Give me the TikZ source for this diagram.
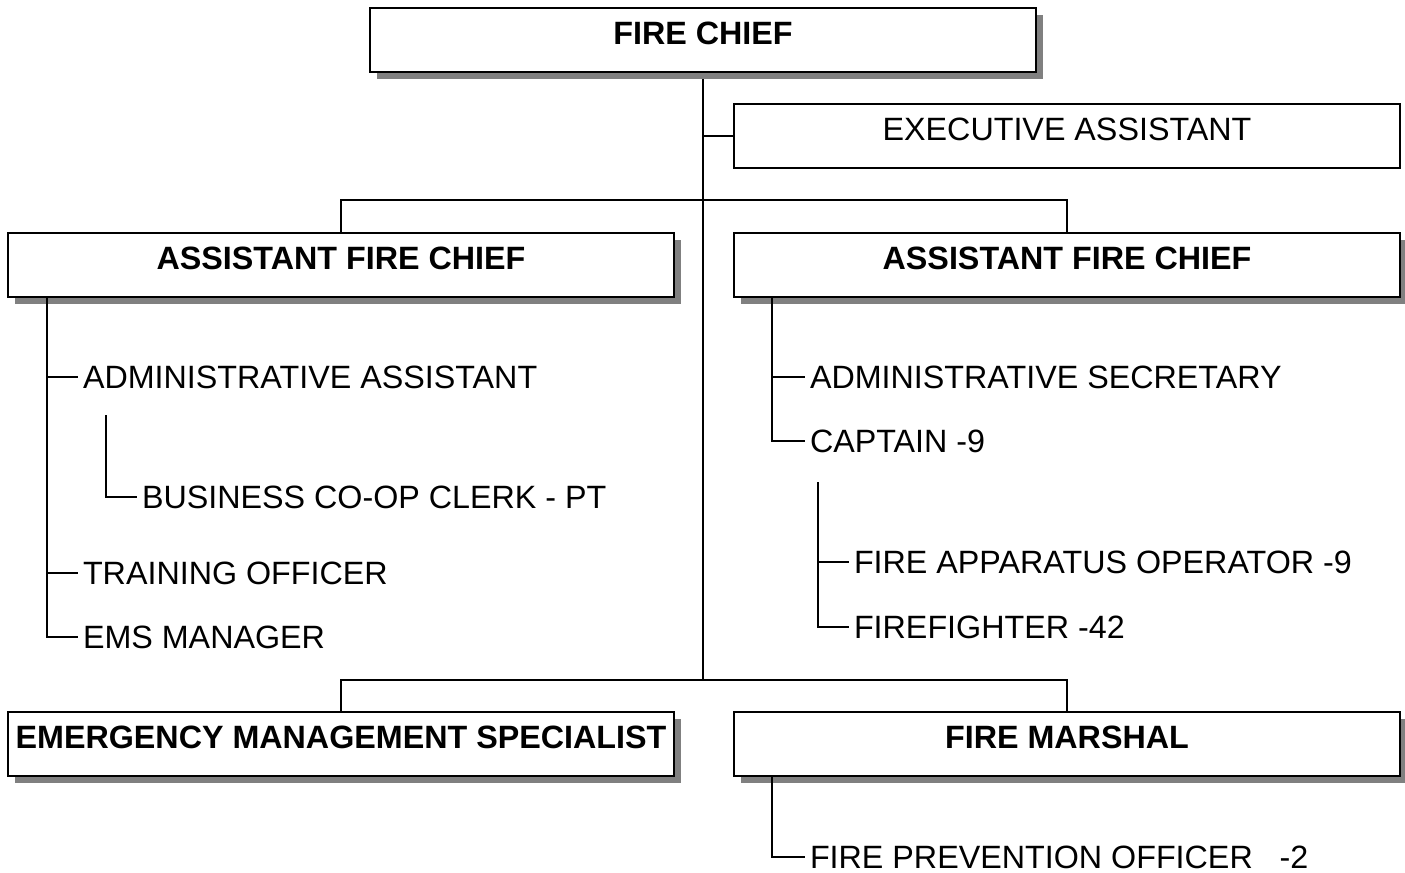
\documentclass[tikz,border=0pt]{standalone}
\usepackage{fontspec}
\setmainfont{Liberation Sans}
\usetikzlibrary{positioning,shadows}
\begin{document}
\begin{tikzpicture}[x=0.75pt,y=-0.75pt,line width=1.5pt,
        block/.style={draw,rectangle,fill=white,anchor=north,minimum width=499.5pt,inner sep=0pt,
          text height=27.5pt,text depth=20.5pt,font=\fontsize{24.2}{28}\selectfont},
        boss/.style={block,font=\fontsize{24.2}{28}\selectfont\bfseries,
          drop shadow={shadow xshift=5pt,shadow yshift=-5pt,fill=gray,opacity=1}},
        item/.style={anchor=west,inner xsep=3pt,inner ysep=0pt,font=\fontsize{24.2}{28}\selectfont}]
   \useasboundingbox (0,0) rectangle (1405,873);

   \coordinate (T1) at (703,200);
   \coordinate (T2) at (703,680);
   \draw (703,40) -- (T2);

   \node[boss] (A) at (703,7) {FIRE CHIEF};
   \node[block] (B) at (1067,103) {EXECUTIVE ASSISTANT};
   \node[boss] (C) at (341,232) {ASSISTANT FIRE CHIEF};
   \node[boss] (D) at (1067,232) {ASSISTANT FIRE CHIEF};
   \node[boss] (E) at (341,711) {EMERGENCY MANAGEMENT SPECIALIST};
   \node[boss] (F) at (1067,711) {FIRE MARSHAL};

   \node[item] (G) at (78,377) {ADMINISTRATIVE ASSISTANT};
   \node[item] (H) at (137,497) {BUSINESS CO-OP CLERK - PT};
   \node[item] (I) at (78,573) {TRAINING OFFICER};
   \node[item] (J) at (78,637) {EMS MANAGER};
   \node[item] (K) at (805,377) {ADMINISTRATIVE SECRETARY};
   \node[item] (L) at (805,441) {CAPTAIN -9};
   \node[item] (M) at (849,562) {FIRE APPARATUS OPERATOR -9};
   \node[item] (N) at (849,627) {FIREFIGHTER -42};
   \node[item] (O) at (805,857) {FIRE PREVENTION OFFICER\ \ \ -2};

   \coordinate (h) at (106,415);
   \coordinate (m) at (818,482);

   \draw (B.west) -- (B.west -| A.south);
   \draw (C.north) |- (T1) -| (D.north);
   \draw (E.north) |- (T2) -| (F.north);
   \draw (C.south west) ++(40,0) coordinate (c) |- (J.west) (c |- G.west) -- (G.west) (c |- I.west) -- (I.west);
   \draw (h) |- (H.west);
   \draw (D.south west) ++(39,0) coordinate (d) |- (L.west) (d |- K.west) -- (K.west);
   \draw (m) |- (N.west) (m |- M.west) -- (M.west);
   \draw (F.south west) ++(39,0) |- (O.west);
\end{tikzpicture}
\end{document}
